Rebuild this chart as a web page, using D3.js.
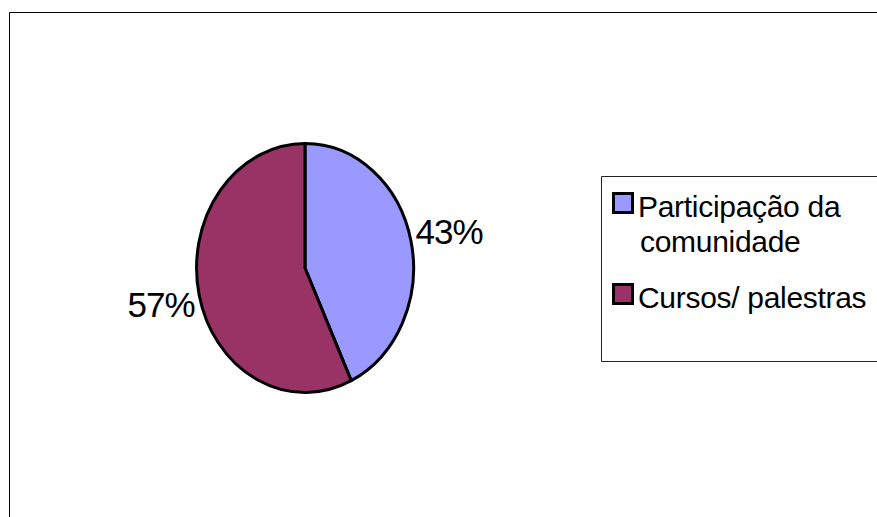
<!DOCTYPE html>
<html>
<head>
<meta charset="utf-8">
<script src="https://cdn.jsdelivr.net/npm/d3@7"></script>
<style>
html,body{margin:0;padding:0;background:#fff;}
svg{display:block;}
text{font-family:"Liberation Sans",Arial,sans-serif;fill:#000;}
</style>
</head>
<body>
<script>
const categories = ["Participação da comunidade", "Cursos/ palestras"];
const legendLines = [["Participação da", "comunidade"], ["Cursos/ palestras"]];
const values = [43, 57];
const colors = ["#9999FF", "#993366"];

const W = 877, H = 517;
const svg = d3.select("body").append("svg").attr("width", W).attr("height", H);

// outer chart border
svg.append("path")
  .attr("d", `M9.5,${H+2} L9.5,12.5 L${W+2},12.5`)
  .attr("fill", "none").attr("stroke", "#000").attr("stroke-width", 1);

const cx = 305, cy = 268, rx = 108.5, ry = 124.5;
const pie = d3.pie().sort(null).value(d => d)(values);
const arc = d3.arc().innerRadius(0).outerRadius(1);

const g = svg.append("g").attr("transform", `translate(${cx},${cy})`);
g.selectAll("path.slice").data(pie).join("path")
  .attr("class", "slice")
  .attr("d", arc)
  .attr("transform", `scale(${rx},${ry})`)
  .attr("fill", (d, i) => colors[i])
  .attr("stroke", "#000")
  .attr("stroke-width", 3)
  .attr("stroke-linejoin", "round")
  .attr("vector-effect", "non-scaling-stroke");

const total = d3.sum(values);
const k = 1.36;
g.selectAll("text.lbl").data(pie).join("text")
  .attr("class", "lbl")
  .attr("x", d => { const a = (d.startAngle + d.endAngle) / 2; return rx * k * Math.sin(a); })
  .attr("y", d => { const a = (d.startAngle + d.endAngle) / 2; return -ry * k * Math.cos(a) + 12.5; })
  .attr("text-anchor", "middle")
  .attr("font-size", 35)
  .attr("letter-spacing", -1)
  .text(d => Math.round(d.data / total * 100) + "%");

// legend
svg.append("path")
  .attr("d", `M${W+2},176.5 L601.5,176.5 L601.5,361.5 L${W+2},361.5`)
  .attr("fill", "#fff").attr("stroke", "#222").attr("stroke-width", 1);

const legendY = [192, 283];
const lg = svg.append("g");
categories.forEach((c, i) => {
  lg.append("rect")
    .attr("x", 613.5).attr("y", legendY[i] + 1.5)
    .attr("width", 19).attr("height", 19)
    .attr("fill", colors[i]).attr("stroke", "#000").attr("stroke-width", 3);
  const t = lg.append("text")
    .attr("x", 638).attr("y", legendY[i] + 25)
    .attr("font-size", 30).attr("letter-spacing", -0.3);
  legendLines[i].forEach((ln, j) => {
    t.append("tspan").attr("x", j === 0 ? 638 : 640).attr("dy", j === 0 ? 0 : 35).text(ln);
  });
});
</script>
</body>
</html>
